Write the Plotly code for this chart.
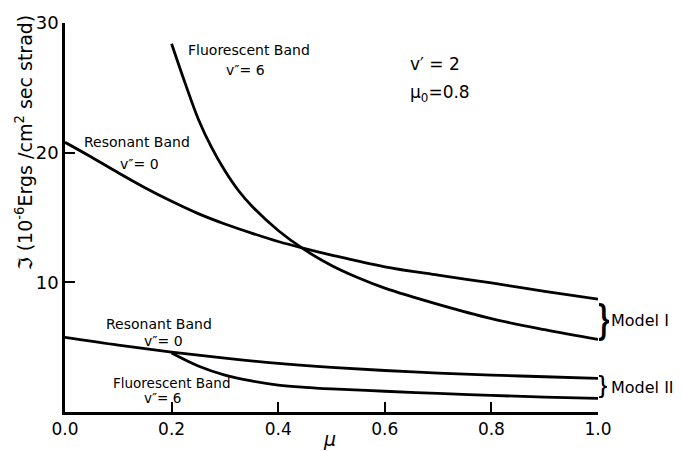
import plotly.graph_objects as go

# Model I
mu_res1 = [0.0, 0.05, 0.1, 0.15, 0.2, 0.25, 0.3, 0.35, 0.4, 0.45, 0.5, 0.6, 0.7, 0.8, 0.9, 1.0]
res1 = [20.8, 19.65, 18.45, 17.3, 16.25, 15.3, 14.5, 13.8, 13.15, 12.6, 12.1, 11.2, 10.55, 9.95, 9.3, 8.7]
mu_flu1 = [0.2, 0.225, 0.25, 0.275, 0.3, 0.325, 0.35, 0.4, 0.45, 0.5, 0.55, 0.6, 0.7, 0.8, 0.9, 1.0]
flu1 = [28.4, 25.4, 22.6, 20.4, 18.6, 17.1, 15.9, 14.0, 12.5, 11.3, 10.35, 9.55, 8.3, 7.2, 6.35, 5.6]
# Model II
mu_res2 = [0.0, 0.1, 0.2, 0.3, 0.4, 0.5, 0.6, 0.7, 0.8, 0.9, 1.0]
res2 = [5.75, 5.15, 4.62, 4.15, 3.75, 3.44, 3.2, 3.0, 2.85, 2.72, 2.6]
mu_flu2 = [0.2, 0.25, 0.3, 0.35, 0.4, 0.45, 0.5, 0.6, 0.7, 0.8, 0.9, 1.0]
flu2 = [4.55, 3.55, 2.85, 2.4, 2.08, 1.9, 1.78, 1.6, 1.43, 1.28, 1.15, 1.05]

x_ticks = [0.0, 0.2, 0.4, 0.6, 0.8, 1.0]
x_labels = ["0.0", "0.2", "0.4", "0.6", "0.8", "1.0"]
y_ticks = [10, 20, 30]
y_labels = ["10", "20", "30"]

FONT = "DejaVu Sans"
fig = go.Figure()
for xs, ys in [(mu_res1, res1), (mu_flu1, flu1), (mu_res2, res2), (mu_flu2, flu2)]:
    fig.add_trace(go.Scatter(x=xs, y=ys, mode="lines",
                             line=dict(color="black", width=2.8, shape="spline", smoothing=1.0),
                             showlegend=False, hoverinfo="skip"))

def ann(x, y, text, size=14, xref="x", yref="y", xanchor="center", yanchor="middle", **kw):
    fig.add_annotation(x=x, y=y, xref=xref, yref=yref, text=text, showarrow=False,
                       xanchor=xanchor, yanchor=yanchor,
                       font=dict(family=FONT, size=size, color="black"), **kw)

# curve labels
ann(0.345, 27.9, "Fluorescent Band")
ann(0.338, 26.4, "v″= 6")
ann(0.135, 20.85, "Resonant Band")
ann(0.139, 19.1, "v″= 0")
ann(0.176, 6.75, "Resonant Band")
ann(0.184, 5.5, "v″= 0")
ann(0.199, 2.25, "Fluorescent Band", size=13.5)
ann(0.182, 1.05, "v″= 6", size=13.5)
ann(0.643, 26.8, "v′ = 2", size=17, xanchor="left")
ann(0.643, 24.6, "μ<sub>0</sub>=0.8", size=17, xanchor="left")

# brackets and model labels (paper coordinates, outside the axes)
ann(1.0, (415 - 320) / 400, "}", size=40, xref="paper", yref="paper", xanchor="left",
    width=10, borderpad=0)
ann(1.0, (415 - 388) / 400, "}", size=25, xref="paper", yref="paper", xanchor="left",
    width=8, borderpad=0)
ann(1.021, (415 - 321) / 400, "Model I", size=16, xref="paper", yref="paper", xanchor="left")
ann(1.021, (415 - 390) / 400, "Model II", size=16, xref="paper", yref="paper", xanchor="left")

# axis titles
ann(0.497, -0.07, "<i>μ</i>", size=19, xref="paper", yref="paper")
ann(-0.077, 0.6925, "ℑ (10<sup>-6</sup>Ergs /cm<sup>2</sup> sec strad)", size=19,
    xref="paper", yref="paper", textangle=-90)

fig.update_layout(
    width=681, height=451,
    margin=dict(l=65, r=83, t=15, b=36),
    paper_bgcolor="white", plot_bgcolor="white",
    font=dict(family=FONT, color="black"),
    xaxis=dict(range=[0, 1.0], showgrid=False, zeroline=False, showline=True,
               linecolor="black", linewidth=2.5, ticks="inside", ticklen=10,
               tickwidth=2, tickcolor="black", tickvals=x_ticks, ticktext=x_labels,
               tickfont=dict(size=17, family=FONT)),
    yaxis=dict(range=[0, 30], showgrid=False, zeroline=False, showline=True,
               linecolor="black", linewidth=2.5, ticks="inside", ticklen=10,
               tickwidth=2, tickcolor="black", tickvals=y_ticks, ticktext=y_labels,
               tickfont=dict(size=18, family=FONT)),
)
fig.write_html("out.html", config={"displayModeBar": False},
               post_script="document.body.style.margin='0px';document.body.style.overflow='hidden';")
